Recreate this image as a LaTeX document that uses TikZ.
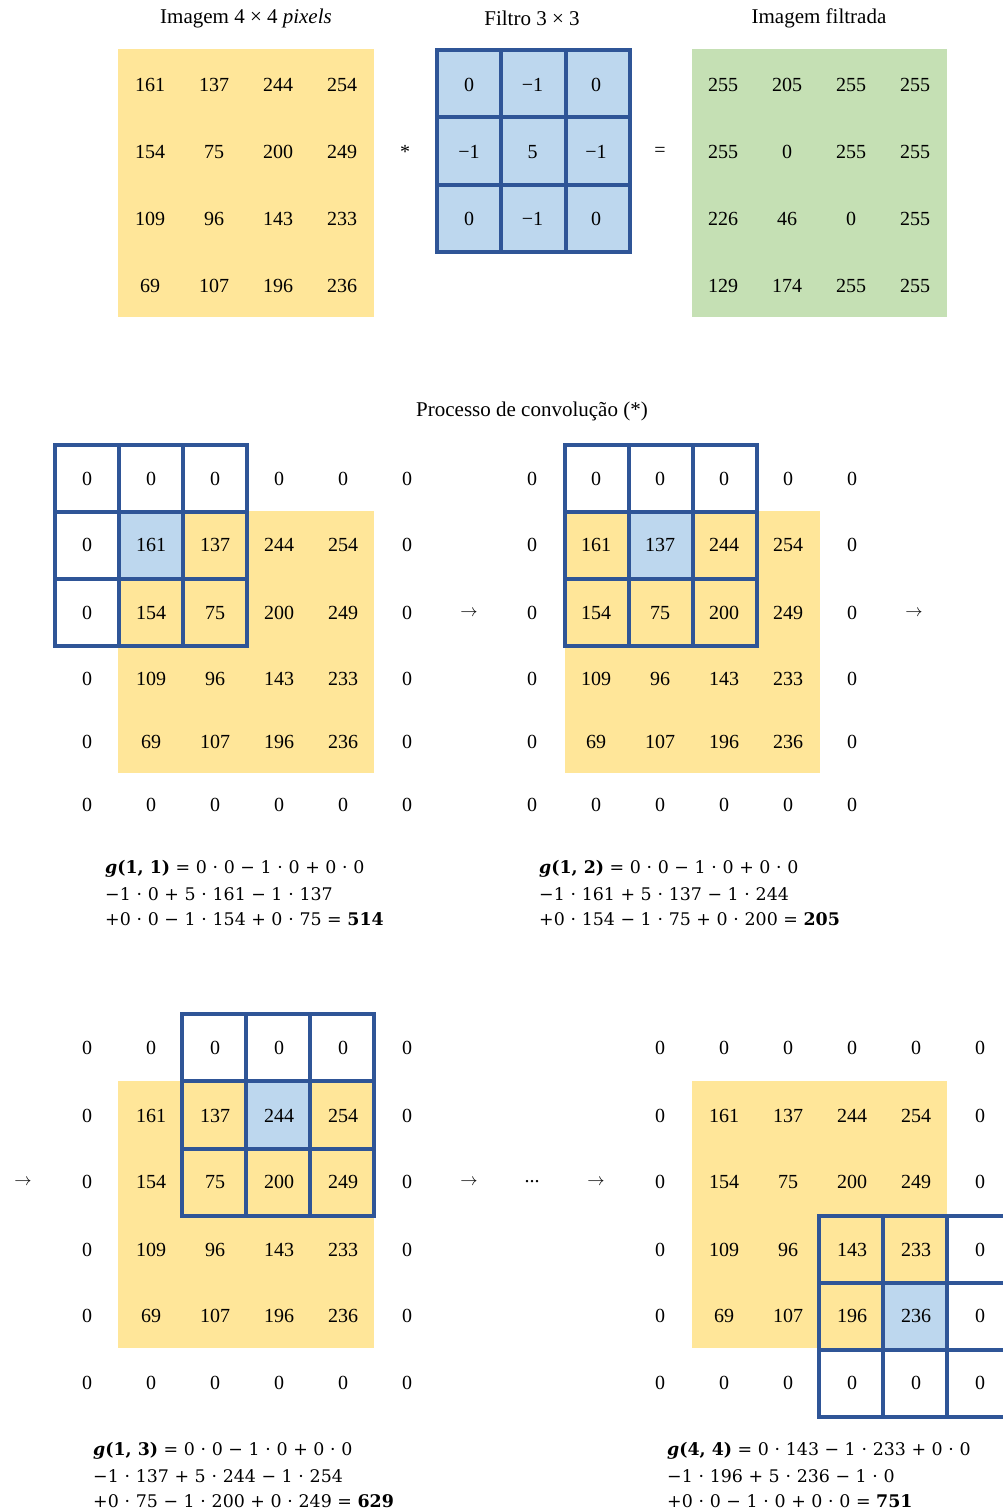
\documentclass[tikz,border=0pt]{standalone}
\usepackage{fontspec}
\setmainfont{Liberation Serif}
\newfontfamily\eqfont{DejaVu Serif}
\definecolor{yel}{HTML}{FFE699}
\definecolor{lblue}{HTML}{BDD7EE}
\definecolor{grn}{HTML}{C5E0B4}
\definecolor{dblue}{HTML}{2F5597}
\newcommand\drawpanel[8]{%
  \foreach \y/\vals [count=\r] in {#3/{0,0,0,0,0,0},#4/{0,161,137,244,254,0},#5/{0,154,75,200,249,0},#6/{0,109,96,143,233,0},#7/{0,69,107,196,236,0},#8/{0,0,0,0,0,0}}{
    \foreach \v [count=\c] in \vals {
      \node[num] (#1-\r-\c) at ({#2+64*(\c-1)},\y) {\v};
    }}}
\newcommand\filtgrid[4]{%
  \foreach \i in {0,1,2}{\foreach \j in {0,1,2}{
    \draw[fcell] ({#1+\i*#3},{#2+\j*#4}) rectangle ++(#3,#4);}}}
\newcommand\gl[1]{\textbf{\textit{g}(#1)}}
\begin{document}
\begin{tikzpicture}[x=1pt,y=-1pt,
  num/.style={font=\fontsize{20}{24}\selectfont, inner sep=0pt, anchor=center},
  ttl/.style={font=\fontsize{21}{24}\selectfont, inner sep=0pt, anchor=center},
  arr/.style={font=\fontsize{16}{20}\selectfont, inner sep=0pt, anchor=center},
  eq/.style={font=\eqfont\fontsize{17.4}{22}\selectfont, inner sep=0pt, anchor=west},
  fcell/.style={draw=dblue, line width=4pt}]
\useasboundingbox (0,0) rectangle (1003,1512);
\clip (0,0) rectangle (1003,1512);
\fill[white] (0,0) rectangle (1003,1512);

% ---------- top row ----------
\node[ttl] (t1) at (246,18) {Imagem 4 × 4 \textit{pixels}};
\node[ttl] (t2) at (532,18) {Filtro 3 × 3};
\node[ttl] (t3) at (819,18) {Imagem filtrada};

\fill[yel] (118,49) rectangle (374,317);
\foreach \y/\vals [count=\r] in {85/{161,137,244,254},152/{154,75,200,249},219/{109,96,143,233},286/{69,107,196,236}}{
  \foreach \v [count=\c] in \vals {\node[num] (img-\r-\c) at ({150+64*(\c-1)},\y) {\v};}}

\fill[lblue] (437,50) rectangle (630,252);
\filtgrid{437}{50}{64.33}{67.33}
\foreach \y/\vals [count=\r] in {85/{0,−1,0},152/{−1,5,−1},219/{0,−1,0}}{
  \foreach \v [count=\c] in \vals {\node[num] (flt-\r-\c) at ({469+63.5*(\c-1)},\y) {\v};}}

\fill[grn] (692,49) rectangle (947,317);
\foreach \y/\vals [count=\r] in {85/{255,205,255,255},152/{255,0,255,255},219/{226,46,0,255},286/{129,174,255,255}}{
  \foreach \v [count=\c] in \vals {\node[num] (out-\r-\c) at ({723+64*(\c-1)},\y) {\v};}}

\node[num] (star) at (405,152) {*};
\node[num] (eqs) at (660,152) {=};

\node[ttl] (proc) at (532,411) {Processo de convolução (*)};

% ---------- panel 1 ----------
\fill[yel] (118,511) rectangle (374,773);
\fill[lblue] (119,512) rectangle (183,579);
\filtgrid{55}{445}{64}{67}
\drawpanel{pa}{87}{479}{545}{613}{679}{742}{805}
\node[eq] (eqa1) at (105,869) {\gl{1, 1} = 0 ⋅ 0 − 1 ⋅ 0 + 0 ⋅ 0};
\node[eq] (eqa2) at (105,894) {−1 ⋅ 0 + 5 ⋅ 161 − 1 ⋅ 137};
\node[eq] (eqa3) at (105,919) {+0 ⋅ 0 − 1 ⋅ 154 + 0 ⋅ 75 = \textbf{514}};

\node[arr] (ar1) at (469,613) {$\rightarrow$};

% ---------- panel 2 ----------
\fill[yel] (565,511) rectangle (820,773);
\fill[lblue] (629,512) rectangle (693,579);
\filtgrid{565}{445}{64}{67}
\drawpanel{pb}{532}{479}{545}{613}{679}{742}{805}
\node[eq] (eqb1) at (539,869) {\gl{1, 2} = 0 ⋅ 0 − 1 ⋅ 0 + 0 ⋅ 0};
\node[eq] (eqb2) at (539,894) {−1 ⋅ 161 + 5 ⋅ 137 − 1 ⋅ 244};
\node[eq] (eqb3) at (539,919) {+0 ⋅ 154 − 1 ⋅ 75 + 0 ⋅ 200 = \textbf{205}};

\node[arr] (ar2) at (914,613) {$\rightarrow$};

% ---------- panel 3 ----------
\node[arr] (ar3) at (23,1182) {$\rightarrow$};
\fill[yel] (118,1081) rectangle (374,1348);
\fill[lblue] (246,1082) rectangle (310,1149);
\filtgrid{182}{1014}{64}{67.3}
\drawpanel{pc}{87}{1048}{1116}{1182}{1250}{1316}{1383}
\node[eq] (eqc1) at (93,1451) {\gl{1, 3} = 0 ⋅ 0 − 1 ⋅ 0 + 0 ⋅ 0};
\node[eq] (eqc2) at (93,1476) {−1 ⋅ 137 + 5 ⋅ 244 − 1 ⋅ 254};
\node[eq] (eqc3) at (93,1501) {+0 ⋅ 75 − 1 ⋅ 200 + 0 ⋅ 249 = \textbf{629}};

\node[arr] (ar4) at (469,1182) {$\rightarrow$};
\node[num] (dots) at (532,1182) {...};
\node[arr] (ar5) at (596,1182) {$\rightarrow$};

% ---------- panel 4 ----------
\fill[yel] (692,1081) rectangle (947,1348);
\fill[lblue] (883,1283) rectangle (947,1350);
\filtgrid{819}{1216}{64}{67}
\drawpanel{pd}{660}{1048}{1116}{1182}{1250}{1316}{1383}
\node[eq] (eqd1) at (667,1451) {\gl{4, 4} = 0 ⋅ 143 − 1 ⋅ 233 + 0 ⋅ 0};
\node[eq] (eqd2) at (667,1476) {−1 ⋅ 196 + 5 ⋅ 236 − 1 ⋅ 0};
\node[eq] (eqd3) at (667,1501) {+0 ⋅ 0 − 1 ⋅ 0 + 0 ⋅ 0 = \textbf{751}};
\end{tikzpicture}
\end{document}
